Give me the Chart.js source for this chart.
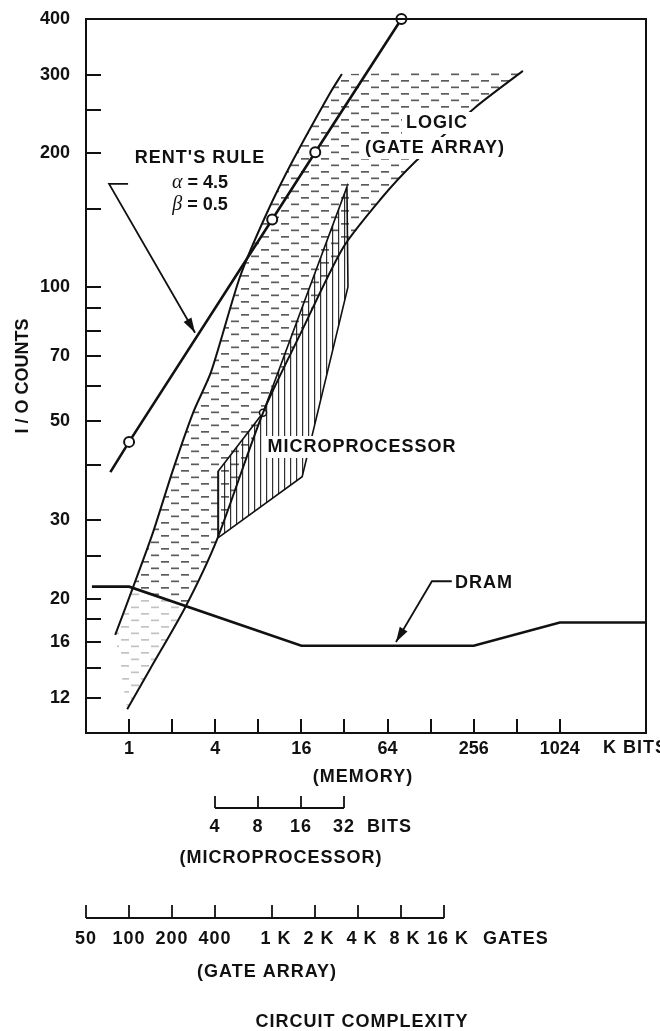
<!DOCTYPE html>
<html>
<head>
<meta charset="utf-8">
<script src="https://cdn.jsdelivr.net/npm/chart.js@4.4.1/dist/chart.umd.min.js"></script>
<style>
  html, body { margin: 0; padding: 0; background: #fff; }
  canvas { display: block; }
</style>
</head>
<body>
<canvas id="c" width="660" height="1031"></canvas>
<script>
// axis ticks
const memoryTicks = [1, 2, 4, 8, 16, 32, 64, 128, 256, 512, 1024];
const memoryLabels = ['1', '', '4', '', '16', '', '64', '', '256', '', '1024'];
const ioMajorTicks = [12, 16, 20, 30, 50, 70, 100, 200, 300, 400];
const ioMinorTicks = [14, 18, 25, 40, 60, 80, 90, 150, 250];
const microBits = [4, 8, 16, 32];
const gateCounts = [50, 100, 200, 400, 1000, 2000, 4000, 8000, 16000];
const gateLabels = ['50', '100', '200', '400', '1 K', '2 K', '4 K', '8 K', '16 K'];
const GATES_PER_KBIT = 100;

// Rent's rule (alpha 4.5, beta 0.5)
const rentKbits = [0.74, 1, 10, 20, 80];
const rentIO = [38.5, 45, 142, 201, 400];
const rentMarked = [false, true, true, true, true];

// DRAM
const dramKbits = [0.55, 1, 16, 256, 1024, 4096];
const dramIO = [21.3, 21.3, 15.7, 15.7, 17.7, 17.7];

// logic (gate array) band edges
const logicLeftKbits = [0.8, 1.07, 1.47, 2.03, 2.8, 3.74, 5.96, 9.2, 14, 25.4, 30.7];
const logicLeftIO = [16.6, 21.3, 28.2, 39, 52.3, 64.6, 105.6, 147, 193, 273, 301];
const logicRightKbits = [0.97, 1.4, 2.46, 4.12, 8.63, 15.65, 31.2, 56.6, 99.5, 261, 565];
const logicRightIO = [11.3, 13.9, 19.1, 27.2, 52.3, 78.3, 122.6, 157, 191, 253, 306];

// microprocessor region outline
const microKbits = [4.18, 4.18, 8.63, 33.3, 33.85, 16.2, 4.18];
const microIO = [27.4, 38.6, 52.3, 168, 100.2, 37.6, 27.4];

const pts = (xs, ys) => xs.map((x, i) => ({x: x, y: ys[i]}));

const canvas = document.getElementById('c');
const ctx0 = canvas.getContext('2d');

function dashPattern(color) {
  const c = document.createElement('canvas');
  c.width = 20; c.height = 13;
  const g = c.getContext('2d');
  g.fillStyle = color;
  g.fillRect(1, 2, 8, 1.7);
  g.fillRect(11, 8.5, 8, 1.7);
  return ctx0.createPattern(c, 'repeat');
}
function linePattern(color) {
  const c = document.createElement('canvas');
  c.width = 6; c.height = 6;
  const g = c.getContext('2d');
  g.fillStyle = color;
  g.fillRect(2, 0, 1.2, 6);
  return ctx0.createPattern(c, 'repeat');
}

// band split at the DRAM line (lower part is lighter)
const upperBand = pts(logicLeftKbits.slice(1), logicLeftIO.slice(1))
  .concat(pts(logicRightKbits.slice(2), logicRightIO.slice(2)).reverse());
upperBand.push(upperBand[0]);
const lowerBand = pts(logicLeftKbits.slice(0, 2), logicLeftIO.slice(0, 2))
  .concat(pts(logicRightKbits.slice(0, 3), logicRightIO.slice(0, 3)).reverse());
lowerBand.push(lowerBand[0]);

const FONT = '"Liberation Sans", Arial, sans-serif';
const INK = '#111';

const annotations = {
  rentArrow: [[0.984, 170.6], [0.725, 170.6], [2.89, 79.1]],
  dramArrow: [[180, 21.9], [130.7, 21.9], [73.3, 16]]
};

function arrow(ctx, p) {
  ctx.beginPath();
  ctx.moveTo(p[0][0], p[0][1]);
  for (let i = 1; i < p.length; i++) ctx.lineTo(p[i][0], p[i][1]);
  ctx.lineWidth = 1.8;
  ctx.strokeStyle = INK;
  ctx.stroke();
  const a = p[p.length - 2], b = p[p.length - 1];
  const ang = Math.atan2(b[1] - a[1], b[0] - a[0]);
  ctx.beginPath();
  ctx.moveTo(b[0], b[1]);
  ctx.lineTo(b[0] - 15 * Math.cos(ang) + 4.5 * Math.sin(ang), b[1] - 15 * Math.sin(ang) - 4.5 * Math.cos(ang));
  ctx.lineTo(b[0] - 15 * Math.cos(ang) - 4.5 * Math.sin(ang), b[1] - 15 * Math.sin(ang) + 4.5 * Math.cos(ang));
  ctx.closePath();
  ctx.fillStyle = INK;
  ctx.fill();
}

function label(ctx, s, x, y, align, boxed) {
  ctx.font = 'bold 18px ' + FONT;
  ctx.letterSpacing = '1px';
  ctx.textAlign = align;
  ctx.textBaseline = 'middle';
  if (boxed) {
    const w = ctx.measureText(s).width;
    const x0 = align === 'center' ? x - w / 2 : x;
    ctx.fillStyle = '#fff';
    ctx.fillRect(x0 - 4, y - 11, w + 8, 22);
  }
  ctx.fillStyle = INK;
  ctx.fillText(s, x, y);
  ctx.letterSpacing = '0px';
}

function greekLine(ctx, sym, rest, cx, y) {
  ctx.textBaseline = 'middle';
  ctx.textAlign = 'left';
  ctx.font = 'italic 20px "Liberation Serif", serif';
  const w1 = ctx.measureText(sym).width;
  ctx.font = 'bold 18px ' + FONT;
  const w2 = ctx.measureText(rest).width;
  const x0 = cx - (w1 + w2) / 2;
  ctx.fillStyle = INK;
  ctx.font = 'italic 20px "Liberation Serif", serif';
  ctx.fillText(sym, x0, y);
  ctx.font = 'bold 18px ' + FONT;
  ctx.fillText(rest, x0 + w1, y);
}

const decor = {
  id: 'decor',
  afterDatasetsDraw(chart) {
    const ctx = chart.ctx;
    const xs = chart.scales.x, ys = chart.scales.y;
    const a = chart.chartArea;
    ctx.save();
    // labels sitting over the hatching
    label(ctx, 'LOGIC', 437, 123, 'center', true);
    label(ctx, '(GATE ARRAY)', 435, 148, 'center', true);
    label(ctx, 'MICROPROCESSOR', 362, 447, 'center', true);
    label(ctx, 'DRAM', 455, 583, 'left', false);
    label(ctx, "RENT'S RULE", 200, 158, 'center', false);
    greekLine(ctx, '\u03b1', ' = 4.5', 200, 183);
    greekLine(ctx, '\u03b2', ' = 0.5', 200, 205);

    for (const k of Object.keys(annotations)) {
      arrow(ctx, annotations[k].map(p => [xs.getPixelForValue(p[0]), ys.getPixelForValue(p[1])]));
    }

    // frame and inward ticks
    ctx.strokeStyle = INK;
    ctx.lineWidth = 2;
    ctx.strokeRect(a.left, a.top, a.right - a.left, a.bottom - a.top);
    ctx.beginPath();
    for (const v of ioMajorTicks.concat(ioMinorTicks)) {
      if (v >= 400) continue;
      const y = Math.round(ys.getPixelForValue(v));
      ctx.moveTo(a.left, y);
      ctx.lineTo(a.left + 15, y);
    }
    for (const v of memoryTicks) {
      const x = Math.round(xs.getPixelForValue(v));
      ctx.moveTo(x, a.bottom);
      ctx.lineTo(x, a.bottom - 14);
    }
    ctx.stroke();

    // extra complexity scales below the plot
    label(ctx, 'K BITS', 603, 748, 'left', false);
    label(ctx, '(MEMORY)', 363, 777, 'center', false);

    const bx = microBits.map(b => Math.round(xs.getPixelForValue(b)));
    ctx.lineWidth = 1.8;
    ctx.beginPath();
    ctx.moveTo(bx[0], 808);
    ctx.lineTo(bx[bx.length - 1], 808);
    bx.forEach(x => { ctx.moveTo(x, 808); ctx.lineTo(x, 796); });
    ctx.stroke();
    microBits.forEach((b, i) => label(ctx, String(b), bx[i], 827, 'center', false));
    label(ctx, 'BITS', 367, 827, 'left', false);
    label(ctx, '(MICROPROCESSOR)', 281, 858, 'center', false);

    const gx = gateCounts.map(g => Math.round(xs.getPixelForValue(g / GATES_PER_KBIT)));
    ctx.beginPath();
    ctx.moveTo(gx[0], 918);
    ctx.lineTo(gx[gx.length - 1], 918);
    gx.forEach(x => { ctx.moveTo(x, 918); ctx.lineTo(x, 905); });
    ctx.stroke();
    gateLabels.forEach((s, i) => label(ctx, s, gx[i] + (s.includes('K') ? 4 : 0), 939, 'center', false));
    label(ctx, 'GATES', 483, 939, 'left', false);
    label(ctx, '(GATE ARRAY)', 267, 972, 'center', false);
    label(ctx, 'CIRCUIT COMPLEXITY', 362, 1022, 'center', false);
    ctx.restore();
  }
};

const line = (data, extra) => Object.assign({
  data: data,
  showLine: true,
  borderColor: INK,
  backgroundColor: INK,
  borderWidth: 2,
  pointRadius: 0,
  tension: 0,
  fill: false
}, extra);

new Chart(canvas, {
  type: 'scatter',
  data: {
    datasets: [
      line(pts(rentKbits, rentIO), {
        label: "Rent's rule", borderWidth: 2.6, order: 1, clip: 8,
        pointRadius: rentMarked.map(m => m ? 5 : 0),
        pointBackgroundColor: '#fff', pointBorderColor: INK, pointBorderWidth: 2
      }),
      line(pts(dramKbits, dramIO), {label: 'DRAM', borderWidth: 2.6, order: 2}),
      line(pts(logicLeftKbits, logicLeftIO), {label: 'Logic upper edge', tension: 0.25, order: 3}),
      line(pts(logicRightKbits, logicRightIO), {label: 'Logic lower edge', tension: 0.25, order: 3}),
      line(pts(microKbits, microIO), {
        label: 'Microprocessor', borderWidth: 1.6, order: 4, fill: 'shape',
        backgroundColor: linePattern('rgba(25,25,25,0.9)'),
        pointRadius: microIO.map((v, i) => i === 2 ? 3.5 : 0),
        pointBackgroundColor: '#fff', pointBorderColor: INK, pointBorderWidth: 1.5
      }),
      line(upperBand, {
        label: 'Logic', order: 5, fill: 'shape', borderColor: 'rgba(0,0,0,0)',
        backgroundColor: dashPattern('rgba(50,50,50,0.8)')
      }),
      line(lowerBand, {
        label: 'Logic (faint)', order: 5, fill: 'shape', borderColor: 'rgba(0,0,0,0)',
        backgroundColor: dashPattern('rgba(120,120,120,0.45)')
      })
    ]
  },
  options: {
    responsive: false,
    animation: false,
    devicePixelRatio: 1,
    layout: { padding: { top: 19, right: 14, left: 0, bottom: 0 } },
    plugins: {
      legend: { display: false },
      tooltip: { enabled: false }
    },
    scales: {
      x: {
        type: 'logarithmic',
        min: 0.5,
        max: 4096,
        grid: { display: false },
        border: { display: false },
        afterBuildTicks: s => { s.ticks = memoryTicks.map(v => ({value: v})); },
        afterFit: s => { s.height = 298; },
        ticks: {
          autoSkip: false,
          maxRotation: 0,
          padding: -3,
          color: INK,
          font: { family: FONT, size: 18, weight: 'bold' },
          callback: (v, i) => memoryLabels[i]
        }
      },
      y: {
        type: 'logarithmic',
        min: 10,
        max: 400,
        grid: { display: false },
        border: { display: false },
        afterBuildTicks: s => {
          s.ticks = ioMajorTicks.concat(ioMinorTicks).sort((p, q) => p - q).map(v => ({value: v}));
        },
        afterFit: s => { s.width = 86; },
        title: {
          display: true,
          text: 'I / O COUNTS',
          color: INK,
          padding: { top: 12, bottom: 0 },
          font: { family: FONT, size: 18, weight: 'bold' }
        },
        ticks: {
          autoSkip: false,
          padding: 8,
          color: INK,
          font: { family: FONT, size: 18, weight: 'bold' },
          callback: v => ioMajorTicks.includes(v) ? String(v) : ''
        }
      }
    }
  },
  plugins: [decor]
});
</script>
</body>
</html>
